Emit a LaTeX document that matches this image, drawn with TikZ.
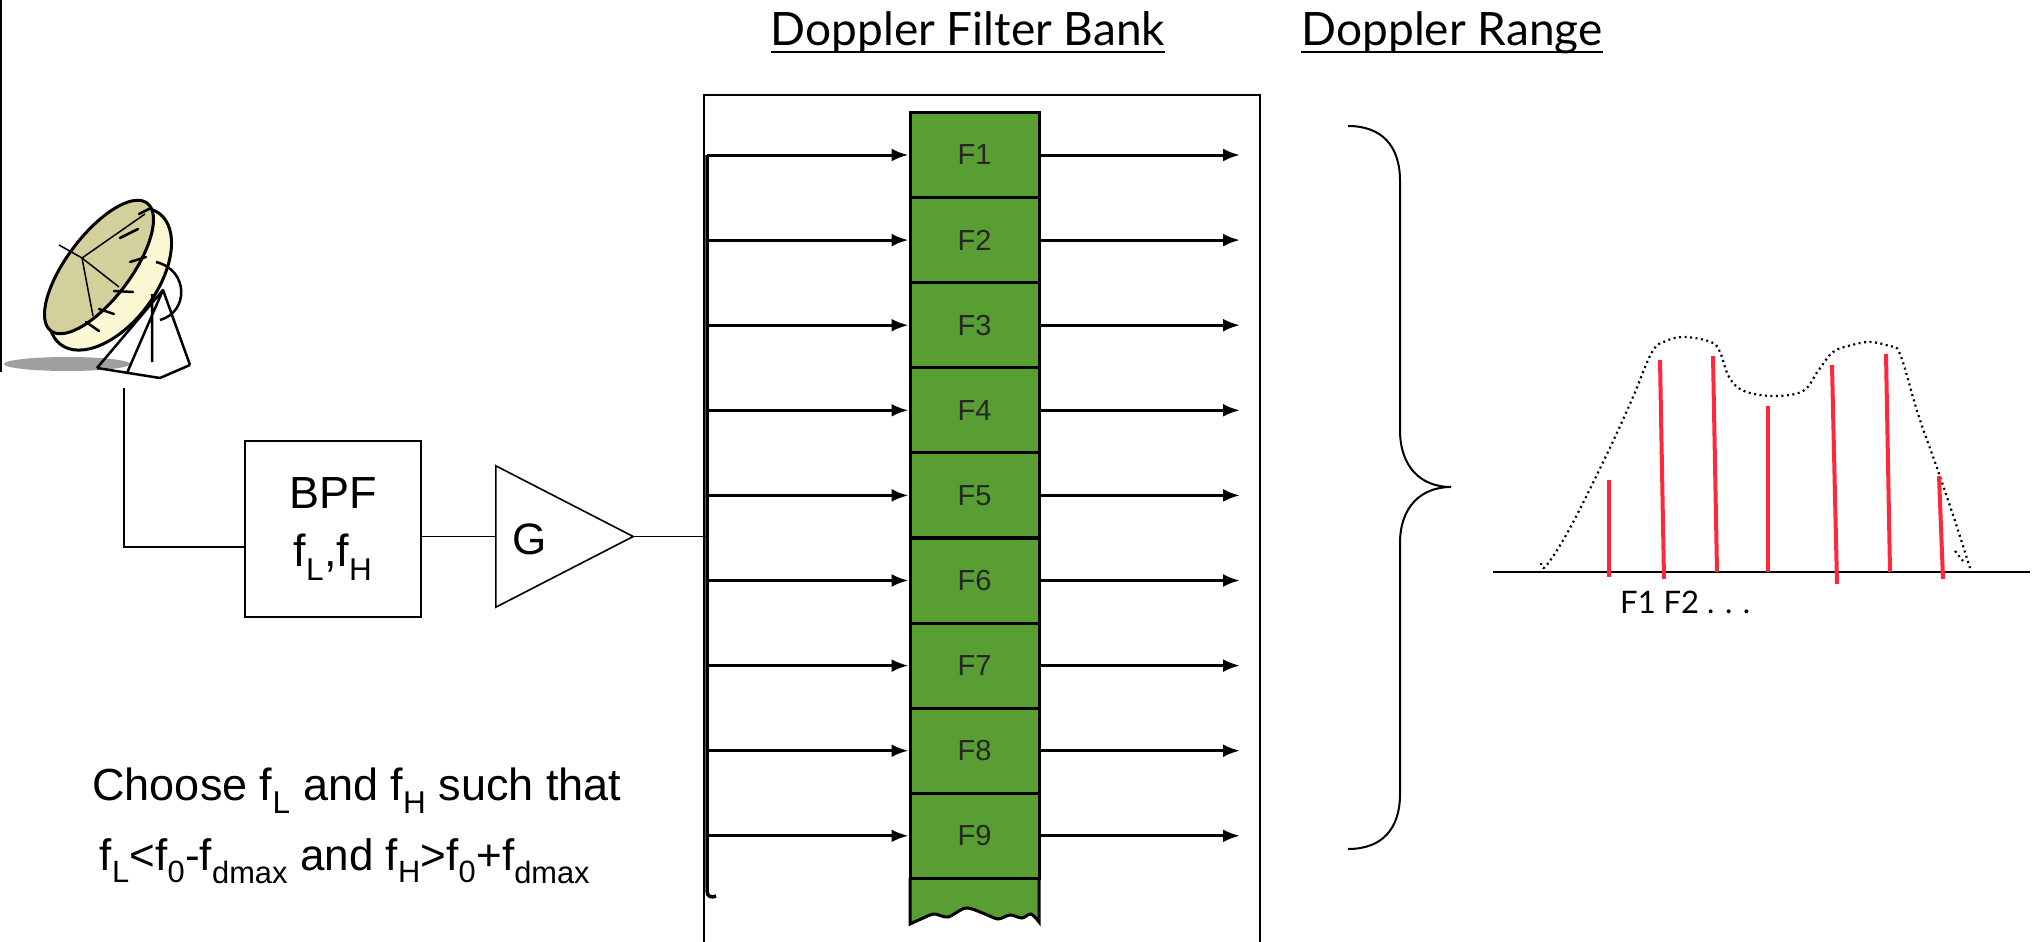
\documentclass[tikz,border=0pt]{standalone}
\usepackage{fontspec}
\setmainfont{Liberation Sans}
\newfontfamily\gill{Lato}
\usetikzlibrary{arrows.meta,calc,positioning}

\definecolor{filtergreen}{RGB}{88,158,50}
\definecolor{linered}{RGB}{255,40,58}
\definecolor{dishface}{RGB}{212,208,156}
\definecolor{dishback}{RGB}{252,248,212}

\tikzset{
  wire/.style={line width=1.6pt},
  bankarrow/.style={line width=3pt,-{Latex[length=17pt,width=13pt]}},
  filterbox/.style={draw,line width=3pt,fill=filtergreen,minimum width=129pt,
    minimum height=85pt,inner sep=0pt,text=black!85,
    font=\fontsize{29}{29}\selectfont},
  heading/.style={font=\gill\fontsize{46}{46}\selectfont,inner sep=0pt},
  dopplerline/.style={linered,line width=4pt},
}

\begin{document}
\begin{tikzpicture}[x=1pt,y=-1pt]
\useasboundingbox (0,0) rectangle (2032,942);

\def\busx{707}
\def\outx{1240}

% frame pieces
\draw[line width=2pt] (1,0) -- (1,372);
\draw[line width=2pt] (704,942) |- (1260,95) -- (1260,942);

% titles
\node[heading,anchor=base] (bankhead) at (968,46) {Doppler Filter Bank};
\node[heading,anchor=base] (rangehead) at (1452,46) {Doppler Range};
\draw[line width=2.5pt] ([yshift=-6pt]bankhead.base west) -- ([yshift=-6pt]bankhead.base east);
\draw[line width=2.5pt] ([yshift=-6pt]rangehead.base west) -- ([yshift=-6pt]rangehead.base east);

% antenna
\fill[gray!75] (67,364) ellipse [x radius=63, y radius=7];
\draw[line width=3pt,fill=dishback,rotate around={53:(110,279)}]
  (110,279) ellipse [x radius=82, y radius=46];
\draw[line width=3pt,fill=dishface,rotate around={53:(99,267)}]
  (99,267) ellipse [x radius=80, y radius=32];
\foreach \ax/\ay/\bx/\by in {120/238/138/229, 130/262/146/257, 114/291/133/292,
                             99/309/114/314, 86/322/99/331, 139/214/151/208}
  \draw[line width=2.5pt,line cap=round] (\ax,\ay) -- (\bx,\by);
\draw[line width=1.5pt] (59,245) -- (82,258);
\foreach \rx/\ry in {145/214, 119/287, 93/316}
  \draw[line width=1.5pt] (82,258) -- (\rx,\ry);
\draw[line width=2.5pt] (156,262) .. controls (189,270) and (189,312) .. (160,320);
\draw[line width=2.5pt,line join=round] (97,368) -- (163,290) -- (190,365)
  (163,290) -- (127,373) (152,294) -- (152,362)
  (97,368) -- (160,378) -- (190,365);
\coordinate (ant) at (124,388);

% front end: filter and gain
\node[draw,wire,minimum width=176pt,minimum height=176pt,inner sep=0pt,
  align=center,font=\fontsize{45}{58}\selectfont] (bpf) at (333,529)
  {BPF\\f\textsubscript{L},f\textsubscript{H}};
\node[minimum width=137pt,minimum height=141pt,inner sep=0pt] (amp) at (564.5,536.5) {};
\draw[wire,line join=miter] (amp.north west) -- (amp.east) -- (amp.south west) -- cycle;
\node[font=\fontsize{44}{44}\selectfont,anchor=base] at (530,554) {G};
\coordinate (bus) at (\busx,155);

\draw[wire] (ant) |- (bpf.west |- 0,547);
\draw[wire] (bpf.east |- amp.west) -- (amp.west);
\draw[wire] (amp.east) -- (amp.east -| bus);

% bank of doppler filters
\draw[line width=3pt,fill=filtergreen] (910,878) -- (910,924)
  -- plot[smooth] coordinates {(910,924) (921,919) (934,914) (948,917) (966,908)
     (985,914) (998,919) (1010,915) (1022,918) (1031,914) (1039,922)}
  -- (1039,878);
\foreach \i in {1,...,9}
{%
  \node[filterbox] (f\i) at (974.5,{155+85.1*(\i-1)}) {F\i};
  \draw[bankarrow] (bus |- f\i.west) -- (f\i.west);
  \draw[bankarrow] (f\i.east) -- (f\i.east -| \outx,0);
}
\draw[line width=3.5pt] (bus) -- (\busx,891) .. controls (\busx,897) and (712,898) .. (716,896);

% brace over the doppler range
\draw[line width=2pt] (1348,126) .. controls (1382,126) and (1400,146) .. (1400,181)
  -- (1400,430) .. controls (1400,466) and (1420,487) .. (1451,487)
  .. controls (1420,487) and (1400,508) .. (1400,543)
  -- (1400,794) .. controls (1400,829) and (1382,849) .. (1348,849);

% spectrum with filter lines
\draw[dash pattern=on 2pt off 3.5pt,line width=2.2pt] plot[smooth,tension=0.6] coordinates {
  (1541,563) (1546,566) (1570,528) (1607,454) (1633,397) (1652,352) (1666,341)
  (1685,337) (1711,342) (1720,352) (1729,377) (1744,391) (1774,396) (1803,391)
  (1818,371) (1833,352) (1852,345) (1870,342) (1889,346) (1900,354) (1918,414)
  (1937,468) (1955,521) (1970,568)};
\draw[dash pattern=on 2pt off 3.5pt,line width=2.2pt] (1955,551) -- (1963,561);
\draw[line width=2.5pt] (1493,572) -- (2030,572);
\foreach \xb/\xt/\yt/\yb in {1609/1609/480/577, 1664/1660/360/579, 1717/1713/356/572,
                            1768/1768/406/572, 1837/1832/365/584, 1890/1886/354/572,
                            1943/1939/476/579}
  \draw[dopplerline] (\xb,\yb) -- (\xt,\yt);
\node[font=\gill\fontsize{31}{31}\selectfont,anchor=base west,inner sep=0pt] (flabel)
  at (1620,613) {F1 F2 . . .};

% band edge rule
\node[font=\fontsize{45}{45}\selectfont,anchor=base,inner sep=0pt] (rule1) at (357,800)
  {Choose f\textsubscript{L} and f\textsubscript{H} such that};
\node[font=\fontsize{44}{44}\selectfont,anchor=base,inner sep=0pt] (rule2) at (345,870)
  {f\textsubscript{L}<f\textsubscript{0}-f\textsubscript{dmax} and f\textsubscript{H}>f\textsubscript{0}+f\textsubscript{dmax}};

\end{tikzpicture}
\end{document}
